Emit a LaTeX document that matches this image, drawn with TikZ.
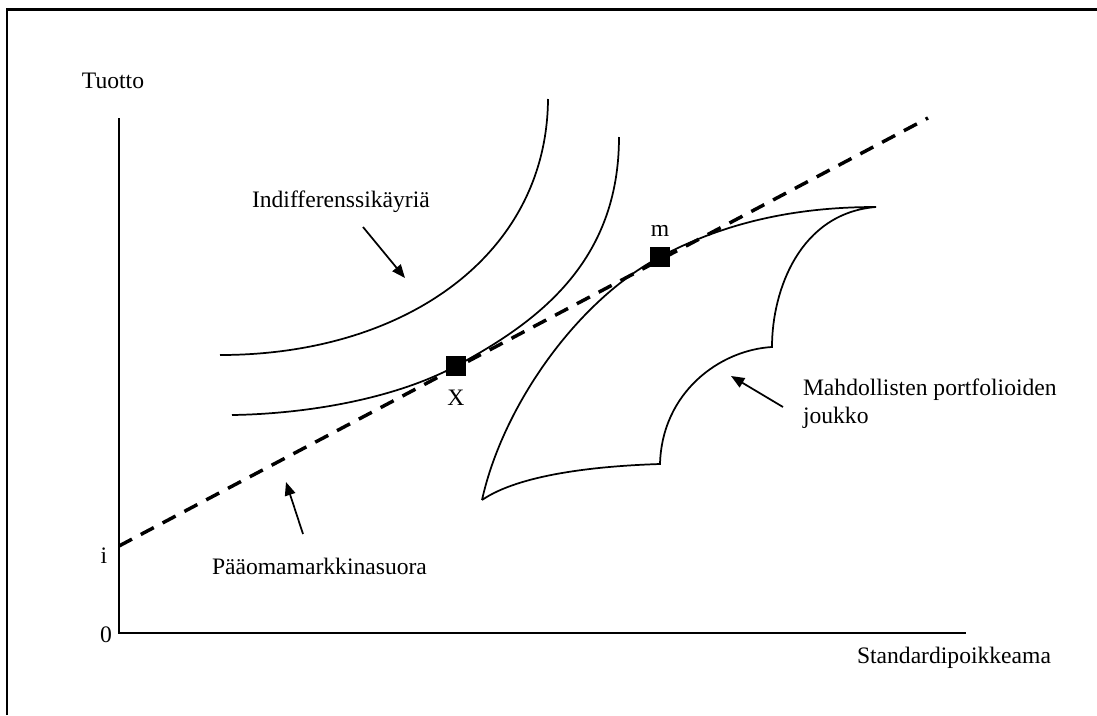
\documentclass[tikz,border=0pt]{standalone}
\usepackage{fontspec}
\setmainfont{Liberation Serif}
\usetikzlibrary{arrows.meta}
\begin{document}
\begin{tikzpicture}[x=0.75pt,y=-0.75pt,
  every node/.style={inner sep=0pt,outer sep=0pt,font=\fontsize{17.7}{21}\selectfont},
  lbl/.style={anchor=base},
  lblw/.style={anchor=base west},
  curve/.style={line width=1.3pt},
  axis/.style={line width=1.7pt},
  cml/.style={line width=2.6pt,dash pattern=on 11pt off 7.5pt},
  pt/.style={fill=black,minimum size=15.5pt,draw=none},
  pointer/.style={line width=1.3pt,-{Triangle[length=10pt,width=8pt]}}]
\useasboundingbox (0,0) rectangle (1097,715);
% frame
\draw[line width=1.7pt] (7,715) -- (7,9.5) -- (1097,9.5);
% axes
\coordinate (O) at (119,633);
\coordinate (ytop) at (119,118);
\coordinate (xend) at (966,633);
\draw[axis] (ytop) -- (O) -- (xend);
% labels
\node[lbl] (tuotto) at (113,88) {Tuotto};
\node[lbl] (zero) at (106,642) {0};
\node[lbl] (ilbl) at (104,563) {i};
\node[lblw] (std) at (857,663) {Standardipoikkeama};
\node[lblw] (indiff) at (252,207) {Indifferenssikäyriä};
\node[lblw] (cmllbl) at (212,574) {Pääomamarkkinasuora};
\node[lblw] (mahd) at (803,395) {Mahdollisten portfolioiden};
\node[lblw] (joukko) at (803,423) {joukko};
% indifference curves
\draw[curve] (548,99) .. controls (547,255) and (405,355) .. (220,355);
\draw[curve] (619,137) .. controls (619,262) and (538,322) .. (456,366)
   .. controls (390,401) and (300,414) .. (232,415);
% feasible set
\draw[curve,line join=miter] (482,500) .. controls (503,405) and (578,300) .. (660,257)
   .. controls (740,214) and (820,207) .. (876,207)
   .. controls (800,213) and (772,290) .. (772,347)
   .. controls (720,350) and (662,392) .. (660,464)
   .. controls (598,466) and (520,474) .. (482,500);
% capital market line
\coordinate (i) at (119,546);
\coordinate (cmlend) at (928,118);
\draw[cml] (i) -- (cmlend);
% points
\node[pt] (X) at (456,366) {};
\node[pt] (m) at (660,257) {};
\node[lbl] (Xl) at (456,405) {X};
\node[lbl] (ml) at (660,236) {m};
% pointers
\coordinate (a1s) at (363,227);
\coordinate (a1e) at (405,278);
\draw[pointer] (a1s) -- (a1e);
\coordinate (a2s) at (303,534);
\coordinate (a2e) at (286,482);
\draw[pointer] (a2s) -- (a2e);
\coordinate (a3s) at (783,407);
\coordinate (a3e) at (731,376);
\draw[pointer] (a3s) -- (a3e);
\end{tikzpicture}
\end{document}
